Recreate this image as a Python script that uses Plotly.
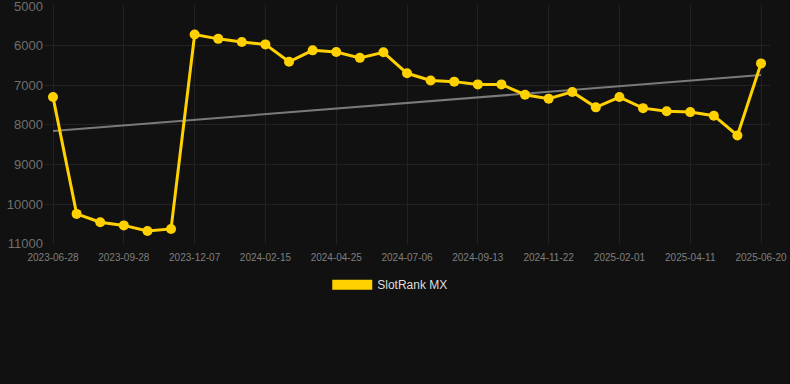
import numpy as np
import plotly.graph_objects as go

dates = ["2023-06-28", "2023-07-29", "2023-08-29", "2023-09-28", "2023-10-21", "2023-11-14",
         "2023-12-07", "2023-12-30", "2024-01-22", "2024-02-15", "2024-03-08", "2024-04-01",
         "2024-04-25", "2024-05-18", "2024-06-12", "2024-07-06", "2024-07-29", "2024-08-21",
         "2024-09-13", "2024-10-06", "2024-10-29", "2024-11-22", "2024-12-15", "2025-01-08",
         "2025-02-01", "2025-02-23", "2025-03-19", "2025-04-11", "2025-05-04", "2025-05-27",
         "2025-06-20"]
rank = [7300, 10250, 10460, 10540, 10680, 10630,
        5720, 5830, 5910, 5970, 6410, 6120,
        6160, 6310, 6170, 6700, 6880, 6910,
        6980, 6980, 7240, 7340, 7170, 7560,
        7300, 7580, 7660, 7680, 7770, 8270,
        6450]
tick_labels = dates[::3]
y_ticks = [5000, 6000, 7000, 8000, 9000, 10000, 11000]
y_tick_text = [str(v) for v in y_ticks]

idx = np.arange(len(rank))
slope, intercept = np.polyfit(idx, rank, 1)
trend = [intercept + slope * i for i in (idx[0], idx[-1])]

gold = "#FFD100"
fig = go.Figure()
fig.add_trace(go.Scatter(x=[dates[0], dates[-1]], y=trend, mode="lines",
                         line=dict(color="#7a7a7a", width=2), showlegend=False,
                         hoverinfo="skip"))
fig.add_trace(go.Scatter(x=dates, y=rank, mode="lines+markers",
                         line=dict(color=gold, width=3),
                         marker=dict(color=gold, size=10), showlegend=False))
fig.add_trace(go.Scatter(x=[None], y=[None], mode="lines", name="SlotRank MX",
                         line=dict(color=gold, width=12), showlegend=True))

fig.update_layout(
    width=790, height=384,
    paper_bgcolor="#111111", plot_bgcolor="#111111",
    margin=dict(l=45, r=20, t=5, b=140, autoexpand=False),
    font=dict(family="Liberation Sans, Arial, sans-serif", color="#7f7f7f"),
    legend=dict(orientation="h", xref="container", x=0.494, xanchor="center",
                y=-0.11, yanchor="top", itemwidth=40,
                font=dict(size=12, color="#dddddd"), bgcolor="rgba(0,0,0,0)"),
)
fig.update_xaxes(type="category", categoryorder="array", categoryarray=dates,
                 tickvals=tick_labels, ticktext=tick_labels, automargin=False,
                 range=[-0.34, 30.38], showgrid=True, gridcolor="#222222",
                 tickfont=dict(size=10, color="#7f7f7f"), showline=False, zeroline=False,
                 ticks="", ticklabelstandoff=6, ticklabeloverflow="allow")
fig.update_yaxes(autorange=False, range=[11010, 4975], tickvals=y_ticks, ticktext=y_tick_text,
                 showgrid=True, gridcolor="#222222", zeroline=False, automargin=False,
                 tickfont=dict(size=13, color="#6f6f6f"), ticks="",
                 ticklabeloverflow="allow", ticklabelstandoff=1)

fig.write_html("out.html", config={"displayModeBar": False},
               post_script="document.body.style.margin='0';document.body.style.background='#111111';")
